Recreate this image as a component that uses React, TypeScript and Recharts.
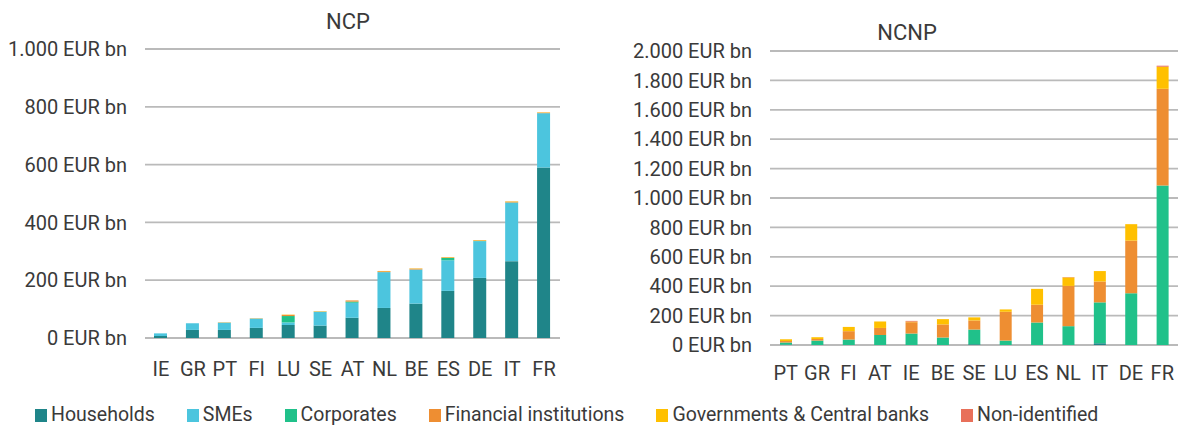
import { BarChart, Bar, XAxis, YAxis, CartesianGrid } from 'recharts'

// NCP (left panel)
const ncpCountries = ['IE', 'GR', 'PT', 'FI', 'LU', 'SE', 'AT', 'NL', 'BE', 'ES', 'DE', 'IT', 'FR']
const ncpHouseholds = [7, 28, 28, 35, 45, 43, 70, 104, 119, 163, 208, 266, 590]
const ncpSmes = [9, 23, 24, 31, 9, 48, 52, 124, 118, 106, 127, 202, 188]
const ncpCorporates = [0, 0, 1, 1, 22, 0, 4, 0, 0, 8, 1, 1, 0]
const ncpFinancial = [0, 0, 1, 1, 4, 1, 4, 3, 3, 2, 2, 3, 2]
const ncpGovernments = [0, 0, 0, 0, 1, 1, 0, 1, 1, 1, 1, 1, 1]
const ncpNonIdentified = [0, 0, 0, 0, 0, 0, 0, 0, 0, 0, 0, 0, 0]
const ncpTicks = [0, 200, 400, 600, 800, 1000]

// NCNP (right panel)
const ncnpCountries = ['PT', 'GR', 'FI', 'AT', 'IE', 'BE', 'SE', 'LU', 'ES', 'NL', 'IT', 'DE', 'FR']
const ncnpHouseholds = [2, 0, 0, 0, 0, 0, 5, 0, 0, 0, 12, 0, 0]
const ncnpSmes = [0, 0, 0, 0, 0, 0, 0, 0, 0, 0, 0, 0, 0]
const ncnpCorporates = [15, 30, 37, 68, 78, 51, 100, 30, 153, 128, 278, 352, 1085]
const ncnpFinancial = [10, 11, 57, 48, 77, 89, 62, 196, 121, 274, 142, 358, 658]
const ncnpGovernments = [12, 12, 29, 44, 4, 36, 21, 16, 108, 58, 71, 112, 150]
const ncnpNonIdentified = [0, 0, 0, 0, 5, 0, 0, 0, 0, 2, 0, 0, 7]
const ncnpTicks = [0, 200, 400, 600, 800, 1000, 1200, 1400, 1600, 1800, 2000]

const series = [
  { key: 'households', name: 'Households', color: '#1F8589' },
  { key: 'smes', name: 'SMEs', color: '#4CC5DE' },
  { key: 'corporates', name: 'Corporates', color: '#20C18A' },
  { key: 'financial', name: 'Financial institutions', color: '#EE8E32' },
  { key: 'governments', name: 'Governments & Central banks', color: '#FFC000' },
  { key: 'nonIdentified', name: 'Non-identified', color: '#E8705A' },
]

const font = 'Roboto, "Noto Sans", sans-serif'
const textColor = '#3a3a3a'

const buildRows = (countries: string[], cols: number[][]) =>
  countries.map((country, i) => ({
    country,
    households: cols[0][i],
    smes: cols[1][i],
    corporates: cols[2][i],
    financial: cols[3][i],
    governments: cols[4][i],
    nonIdentified: cols[5][i],
  }))

const ncpData = buildRows(ncpCountries, [ncpHouseholds, ncpSmes, ncpCorporates, ncpFinancial, ncpGovernments, ncpNonIdentified])
const ncnpData = buildRows(ncnpCountries, [ncnpHouseholds, ncnpSmes, ncnpCorporates, ncnpFinancial, ncnpGovernments, ncnpNonIdentified])

const fmt = (v: number) => String(v).replace(/\B(?=(\d{3})+(?!\d))/g, '.') + ' EUR bn'

function Panel({ data, ticks, max, width, margin, yWidth, barSize, xMargin }: any) {
  return (
    <BarChart width={width} height={395} data={data} margin={margin} barCategoryGap={0}>
      <CartesianGrid vertical={false} stroke="#BABABA" strokeWidth={1.8} />
      <XAxis
        dataKey="country"
        axisLine={false}
        tickLine={false}
        tickSize={0}
        tickMargin={xMargin}
        interval={0}
        height={30}
        tick={{ fill: textColor, fontSize: 20, fontFamily: font }}
      />
      <YAxis
        domain={[0, max]}
        ticks={ticks}
        width={yWidth}
        axisLine={false}
        tickLine={false}
        tickSize={0}
        tickMargin={18}
        tickFormatter={fmt}
        tick={{ fill: textColor, fontSize: 20, fontFamily: font }}
      />
      {series.map((s) => (
        <Bar key={s.key} dataKey={s.key} name={s.name} stackId="a" fill={s.color} barSize={barSize} isAnimationActive={false} />
      ))}
    </BarChart>
  )
}

export default function App() {
  return (
    <div style={{ position: 'absolute', left: 0, top: 0, width: 1183, height: 426, background: '#fff', fontFamily: font, color: textColor }}>
      <div style={{ position: 'absolute', left: 0, top: 0 }}>
        <Panel data={ncpData} ticks={ncpTicks} max={1000} width={580} margin={{ top: 49, right: 20, bottom: 27, left: 0 }} yWidth={145} barSize={13} xMargin={24} />
      </div>
      <div style={{ position: 'absolute', left: 600, top: 0 }}>
        <Panel data={ncnpData} ticks={ncnpTicks} max={2000} width={583} margin={{ top: 51, right: 5, bottom: 20, left: 0 }} yWidth={170} barSize={12} xMargin={21} />
      </div>
      <div style={{ position: 'absolute', left: 348, top: 22, transform: 'translate(-50%, -50%)', fontSize: 22, lineHeight: 1 }}>NCP</div>
      <div style={{ position: 'absolute', left: 907, top: 33, transform: 'translate(-50%, -50%)', fontSize: 22, lineHeight: 1 }}>NCNP</div>
      <div style={{ position: 'absolute', left: 35, top: 404, display: 'flex', alignItems: 'center', gap: 32, fontSize: 19.5, lineHeight: '22px' }}>
        {series.map((s) => (
          <div key={s.key} style={{ display: 'flex', alignItems: 'center' }}>
            <span style={{ display: 'inline-block', width: 12, height: 13, background: s.color, marginRight: 4 }} />
            <span>{s.name}</span>
          </div>
        ))}
      </div>
    </div>
  )
}
